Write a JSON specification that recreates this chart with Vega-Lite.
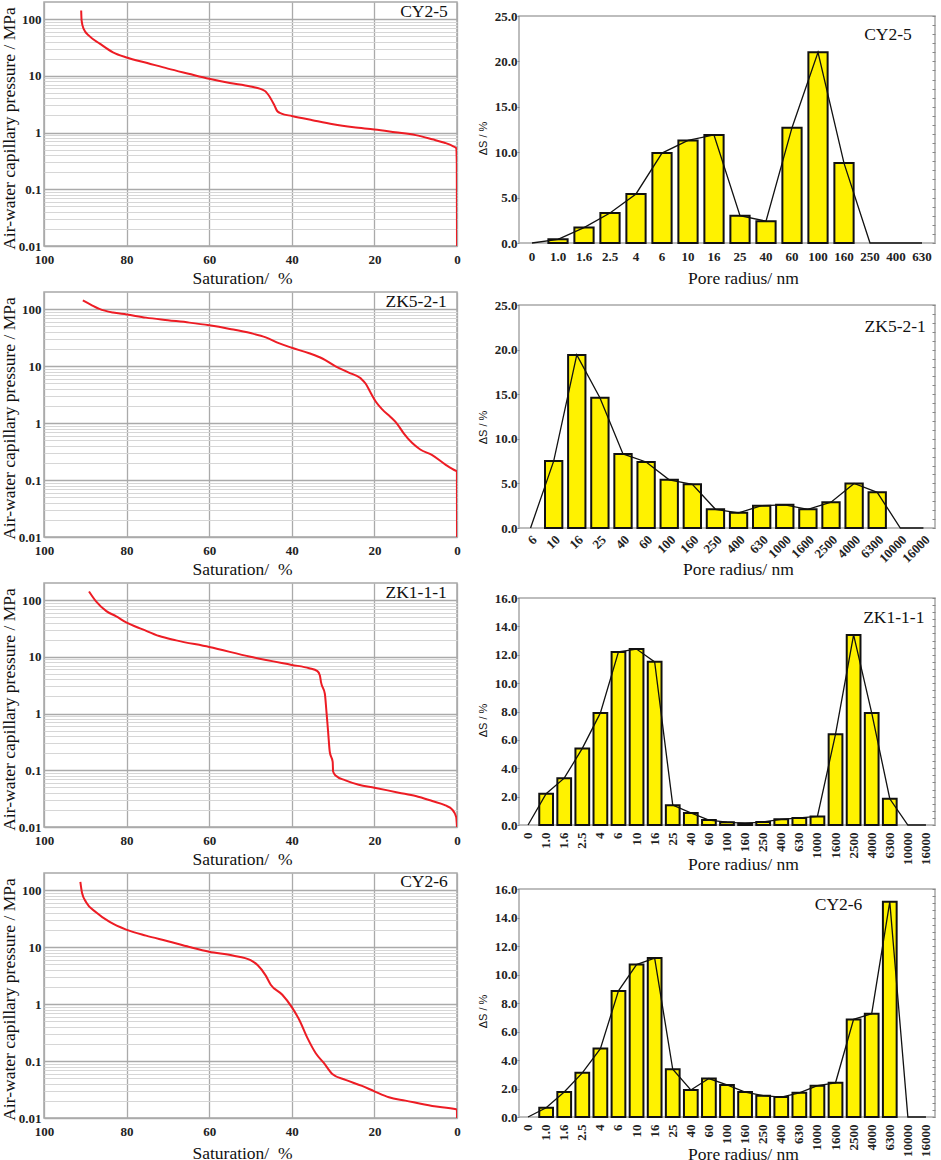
{
  "$schema": "https://vega.github.io/schema/vega-lite/v6.json",
  "background": "white",
  "padding": {"left": -1, "top": 1, "right": 0, "bottom": 0},
  "datasets": {
    "curve_cy25": [
      {"sat": 91, "p": 142}, {"sat": 90.9, "p": 95}, {"sat": 90.4, "p": 67}, {"sat": 89, "p": 50}, {"sat": 86.5, "p": 37}, {"sat": 83.3, "p": 26}, {"sat": 80, "p": 21}, {"sat": 75, "p": 16.8}, {"sat": 70, "p": 13.4}, {"sat": 65, "p": 10.9}, {"sat": 60, "p": 8.9}, {"sat": 55, "p": 7.5}, {"sat": 50, "p": 6.5}, {"sat": 46.5, "p": 5.4}, {"sat": 45.3, "p": 4.2}, {"sat": 44.2, "p": 3.0}, {"sat": 43.5, "p": 2.37}, {"sat": 42.5, "p": 2.16}, {"sat": 40, "p": 1.96}, {"sat": 35, "p": 1.65}, {"sat": 30, "p": 1.4}, {"sat": 25, "p": 1.24}, {"sat": 20, "p": 1.13}, {"sat": 15, "p": 1.01}, {"sat": 10, "p": 0.9}, {"sat": 6, "p": 0.76}, {"sat": 3, "p": 0.66}, {"sat": 1, "p": 0.575}, {"sat": 0.2, "p": 0.53}, {"sat": 0.05, "p": 0.3}, {"sat": 0, "p": 0.01}
    ],
    "curve_zk521": [
      {"sat": 90.6, "p": 142}, {"sat": 88.6, "p": 119}, {"sat": 86.6, "p": 101}, {"sat": 83.3, "p": 87}, {"sat": 80, "p": 80.5}, {"sat": 75.3, "p": 71}, {"sat": 70, "p": 64}, {"sat": 64.8, "p": 58}, {"sat": 60, "p": 52}, {"sat": 55, "p": 45}, {"sat": 50, "p": 38}, {"sat": 46.3, "p": 32}, {"sat": 43, "p": 25}, {"sat": 40, "p": 21}, {"sat": 35.8, "p": 16.8}, {"sat": 32.6, "p": 13.6}, {"sat": 29.4, "p": 9.9}, {"sat": 26.2, "p": 7.7}, {"sat": 23.3, "p": 6.1}, {"sat": 22.1, "p": 4.9}, {"sat": 20.9, "p": 3.4}, {"sat": 19.6, "p": 2.34}, {"sat": 18.1, "p": 1.74}, {"sat": 16.1, "p": 1.28}, {"sat": 14.5, "p": 0.97}, {"sat": 12.9, "p": 0.66}, {"sat": 10.9, "p": 0.45}, {"sat": 8.9, "p": 0.344}, {"sat": 6, "p": 0.274}, {"sat": 2.8, "p": 0.187}, {"sat": 0.4, "p": 0.147}, {"sat": 0.02, "p": 0.143}, {"sat": 0, "p": 0.01}
    ],
    "curve_zk111": [
      {"sat": 89.1, "p": 142}, {"sat": 87.4, "p": 95}, {"sat": 84.9, "p": 64}, {"sat": 82.5, "p": 51.5}, {"sat": 80.1, "p": 40.4}, {"sat": 76.1, "p": 30.4}, {"sat": 72.1, "p": 23.2}, {"sat": 68, "p": 19.5}, {"sat": 60, "p": 14.9}, {"sat": 50, "p": 10}, {"sat": 40, "p": 7.2}, {"sat": 35.8, "p": 6.3}, {"sat": 33.8, "p": 5.6}, {"sat": 33.2, "p": 4.7}, {"sat": 32.9, "p": 3.5}, {"sat": 32, "p": 2.23}, {"sat": 31.6, "p": 1.06}, {"sat": 31.2, "p": 0.47}, {"sat": 30.8, "p": 0.21}, {"sat": 30.1, "p": 0.14}, {"sat": 30, "p": 0.095}, {"sat": 29.4, "p": 0.081}, {"sat": 27, "p": 0.0664}, {"sat": 23.8, "p": 0.0557}, {"sat": 20, "p": 0.0493}, {"sat": 14.1, "p": 0.0403}, {"sat": 10, "p": 0.0352}, {"sat": 6, "p": 0.0287}, {"sat": 2.8, "p": 0.024}, {"sat": 1.2, "p": 0.0205}, {"sat": 0.2, "p": 0.015}, {"sat": 0, "p": 0.01}
    ],
    "curve_cy26": [
      {"sat": 91.2, "p": 140}, {"sat": 90.8, "p": 90}, {"sat": 89.8, "p": 61.5}, {"sat": 87.4, "p": 41}, {"sat": 84.1, "p": 27.7}, {"sat": 80.1, "p": 20.3}, {"sat": 75.3, "p": 15.9}, {"sat": 70, "p": 12.7}, {"sat": 64.8, "p": 10.07}, {"sat": 60, "p": 8.3}, {"sat": 54.3, "p": 7.1}, {"sat": 50, "p": 5.9}, {"sat": 48.3, "p": 4.85}, {"sat": 46.3, "p": 3.16}, {"sat": 45.1, "p": 2.19}, {"sat": 42.3, "p": 1.46}, {"sat": 40, "p": 0.885}, {"sat": 38.2, "p": 0.53}, {"sat": 36.2, "p": 0.252}, {"sat": 34.2, "p": 0.137}, {"sat": 32.2, "p": 0.0917}, {"sat": 30.2, "p": 0.0594}, {"sat": 27, "p": 0.0467}, {"sat": 23, "p": 0.0366}, {"sat": 20, "p": 0.0294}, {"sat": 16.5, "p": 0.0231}, {"sat": 12.5, "p": 0.0202}, {"sat": 6, "p": 0.0163}, {"sat": 0.2, "p": 0.0142}, {"sat": 0.02, "p": 0.0141}, {"sat": 0, "p": 0.01}
    ],
    "pores_cy25": [
      {"radius": "0", "ds": 0}, {"radius": "1.0", "ds": 0.4}, {"radius": "1.6", "ds": 1.7}, {"radius": "2.5", "ds": 3.3}, {"radius": "4", "ds": 5.4}, {"radius": "6", "ds": 9.9}, {"radius": "10", "ds": 11.3}, {"radius": "16", "ds": 11.9}, {"radius": "25", "ds": 3.0}, {"radius": "40", "ds": 2.4}, {"radius": "60", "ds": 12.7}, {"radius": "100", "ds": 21}, {"radius": "160", "ds": 8.8}, {"radius": "250", "ds": 0}, {"radius": "400", "ds": 0}, {"radius": "630", "ds": 0}
    ],
    "pores_zk521": [
      {"radius": "6", "ds": 0}, {"radius": "10", "ds": 7.5}, {"radius": "16", "ds": 19.4}, {"radius": "25", "ds": 14.6}, {"radius": "40", "ds": 8.3}, {"radius": "60", "ds": 7.4}, {"radius": "100", "ds": 5.4}, {"radius": "160", "ds": 4.9}, {"radius": "250", "ds": 2.1}, {"radius": "400", "ds": 1.7}, {"radius": "630", "ds": 2.5}, {"radius": "1000", "ds": 2.6}, {"radius": "1600", "ds": 2.1}, {"radius": "2500", "ds": 2.9}, {"radius": "4000", "ds": 5.0}, {"radius": "6300", "ds": 4.0}, {"radius": "10000", "ds": 0}, {"radius": "16000", "ds": 0}
    ],
    "pores_zk111": [
      {"radius": "0", "ds": 0}, {"radius": "1.0", "ds": 2.2}, {"radius": "1.6", "ds": 3.3}, {"radius": "2.5", "ds": 5.4}, {"radius": "4", "ds": 7.9}, {"radius": "6", "ds": 12.2}, {"radius": "10", "ds": 12.4}, {"radius": "16", "ds": 11.5}, {"radius": "25", "ds": 1.4}, {"radius": "40", "ds": 0.85}, {"radius": "60", "ds": 0.35}, {"radius": "100", "ds": 0.2}, {"radius": "160", "ds": 0.12}, {"radius": "250", "ds": 0.22}, {"radius": "400", "ds": 0.4}, {"radius": "630", "ds": 0.5}, {"radius": "1000", "ds": 0.6}, {"radius": "1600", "ds": 6.4}, {"radius": "2500", "ds": 13.4}, {"radius": "4000", "ds": 7.9}, {"radius": "6300", "ds": 1.85}, {"radius": "10000", "ds": 0}, {"radius": "16000", "ds": 0}
    ],
    "pores_cy26": [
      {"radius": "0", "ds": 0}, {"radius": "1.0", "ds": 0.65}, {"radius": "1.6", "ds": 1.75}, {"radius": "2.5", "ds": 3.1}, {"radius": "4", "ds": 4.8}, {"radius": "6", "ds": 8.85}, {"radius": "10", "ds": 10.7}, {"radius": "16", "ds": 11.15}, {"radius": "25", "ds": 3.35}, {"radius": "40", "ds": 1.9}, {"radius": "60", "ds": 2.7}, {"radius": "100", "ds": 2.25}, {"radius": "160", "ds": 1.75}, {"radius": "250", "ds": 1.5}, {"radius": "400", "ds": 1.4}, {"radius": "630", "ds": 1.7}, {"radius": "1000", "ds": 2.2}, {"radius": "1600", "ds": 2.4}, {"radius": "2500", "ds": 6.85}, {"radius": "4000", "ds": 7.25}, {"radius": "6300", "ds": 15.1}, {"radius": "10000", "ds": 0}, {"radius": "16000", "ds": 0}
    ]
  },
  "config": {
    "view": {"stroke": "#a8a8a8", "strokeWidth": 1.5},
    "axis": {
      "labelFont": "Liberation Serif",
      "labelFontSize": 13,
      "labelFontWeight": "bold",
      "labelColor": "#222",
      "labelOverlap": false,
      "labelFlush": false,
      "titleFont": "Liberation Serif",
      "titleFontSize": 17.5,
      "titleFontWeight": "normal",
      "titleColor": "#111"
    },
    "text": {"font": "Liberation Serif", "fontSize": 17.5, "color": "#111", "baseline": "middle"}
  },
  "spacing": 15,
  "hconcat": [
    {
      "bounds": "flush",
      "spacing": 46,
      "vconcat": [
        {
          "width": 413,
          "height": 244,
          "layer": [
            {
              "data": {"name": "curve_cy25"},
              "mark": {"type": "line", "color": "#ed1c24", "strokeWidth": 2, "clip": true, "interpolate": "monotone"},
              "encoding": {
                "x": {"field": "sat", "type": "quantitative", "scale": {"domain": [100, 0]}, "axis": {"values": [100, 80, 60, 40, 20, 0], "title": "Saturation/\u00a0\u00a0%", "titleX": 198, "titleY": 32, "titleBaseline": "middle", "grid": true, "gridColor": "#aaaaaa", "gridWidth": 1.3, "domain": false, "ticks": false, "labelPadding": 7}},
                "y": {"field": "p", "type": "quantitative", "scale": {"type": "log", "domain": [0.01, 200], "nice": false}, "axis": {"values": [0.01, 0.02, 0.03, 0.04, 0.05, 0.06, 0.07, 0.08, 0.09, 0.1, 0.2, 0.3, 0.4, 0.5, 0.6, 0.7, 0.8, 0.9, 1, 2, 3, 4, 5, 6, 7, 8, 9, 10, 20, 30, 40, 50, 60, 70, 80, 90, 100], "labelExpr": "indexof([0.01, 0.1, 1, 10, 100], datum.value) >= 0 ? datum.value + '' : ''", "title": "Air-water capillary pressure / MPa", "titleX": -35, "titleY": 126, "titleBaseline": "middle", "grid": true, "gridColor": {"condition": {"test": "indexof([0.01, 0.1, 1, 10, 100], datum.value) >= 0", "value": "#aaaaaa"}, "value": "#d6d6d6"}, "gridWidth": {"condition": {"test": "indexof([0.01, 0.1, 1, 10, 100], datum.value) >= 0", "value": 1.3}, "value": 1.1}, "domain": false, "ticks": false, "labelPadding": 3}},
                "order": {"field": "p", "sort": "ascending"}
              }
            },
            {
              "data": {"values": [{"sample": "CY2-5"}]},
              "mark": {"type": "text"},
              "encoding": {"x": {"datum": 8}, "y": {"datum": 133}, "text": {"field": "sample"}}
            }
          ]
        },
        {
          "width": 413,
          "height": 245,
          "layer": [
            {
              "data": {"name": "curve_zk521"},
              "mark": {"type": "line", "color": "#ed1c24", "strokeWidth": 2, "clip": true, "interpolate": "monotone"},
              "encoding": {
                "x": {"field": "sat", "type": "quantitative", "scale": {"domain": [100, 0]}, "axis": {"values": [100, 80, 60, 40, 20, 0], "title": "Saturation/\u00a0\u00a0%", "titleX": 198, "titleY": 32, "titleBaseline": "middle", "grid": true, "gridColor": "#aaaaaa", "gridWidth": 1.3, "domain": false, "ticks": false, "labelPadding": 7}},
                "y": {"field": "p", "type": "quantitative", "scale": {"type": "log", "domain": [0.01, 200], "nice": false}, "axis": {"values": [0.01, 0.02, 0.03, 0.04, 0.05, 0.06, 0.07, 0.08, 0.09, 0.1, 0.2, 0.3, 0.4, 0.5, 0.6, 0.7, 0.8, 0.9, 1, 2, 3, 4, 5, 6, 7, 8, 9, 10, 20, 30, 40, 50, 60, 70, 80, 90, 100], "labelExpr": "indexof([0.01, 0.1, 1, 10, 100], datum.value) >= 0 ? datum.value + '' : ''", "title": "Air-water capillary pressure / MPa", "titleX": -35, "titleY": 126, "titleBaseline": "middle", "grid": true, "gridColor": {"condition": {"test": "indexof([0.01, 0.1, 1, 10, 100], datum.value) >= 0", "value": "#aaaaaa"}, "value": "#d6d6d6"}, "gridWidth": {"condition": {"test": "indexof([0.01, 0.1, 1, 10, 100], datum.value) >= 0", "value": 1.3}, "value": 1.1}, "domain": false, "ticks": false, "labelPadding": 3}},
                "order": {"field": "p", "sort": "ascending"}
              }
            },
            {
              "data": {"values": [{"sample": "ZK5-2-1"}]},
              "mark": {"type": "text"},
              "encoding": {"x": {"datum": 9.9}, "y": {"datum": 131}, "text": {"field": "sample"}}
            }
          ]
        },
        {
          "width": 413,
          "height": 244,
          "layer": [
            {
              "data": {"name": "curve_zk111"},
              "mark": {"type": "line", "color": "#ed1c24", "strokeWidth": 2, "clip": true, "interpolate": "monotone"},
              "encoding": {
                "x": {"field": "sat", "type": "quantitative", "scale": {"domain": [100, 0]}, "axis": {"values": [100, 80, 60, 40, 20, 0], "title": "Saturation/\u00a0\u00a0%", "titleX": 198, "titleY": 32, "titleBaseline": "middle", "grid": true, "gridColor": "#aaaaaa", "gridWidth": 1.3, "domain": false, "ticks": false, "labelPadding": 7}},
                "y": {"field": "p", "type": "quantitative", "scale": {"type": "log", "domain": [0.01, 200], "nice": false}, "axis": {"values": [0.01, 0.02, 0.03, 0.04, 0.05, 0.06, 0.07, 0.08, 0.09, 0.1, 0.2, 0.3, 0.4, 0.5, 0.6, 0.7, 0.8, 0.9, 1, 2, 3, 4, 5, 6, 7, 8, 9, 10, 20, 30, 40, 50, 60, 70, 80, 90, 100], "labelExpr": "indexof([0.01, 0.1, 1, 10, 100], datum.value) >= 0 ? datum.value + '' : ''", "title": "Air-water capillary pressure / MPa", "titleX": -35, "titleY": 126, "titleBaseline": "middle", "grid": true, "gridColor": {"condition": {"test": "indexof([0.01, 0.1, 1, 10, 100], datum.value) >= 0", "value": "#aaaaaa"}, "value": "#d6d6d6"}, "gridWidth": {"condition": {"test": "indexof([0.01, 0.1, 1, 10, 100], datum.value) >= 0", "value": 1.3}, "value": 1.1}, "domain": false, "ticks": false, "labelPadding": 3}},
                "order": {"field": "p", "sort": "ascending"}
              }
            },
            {
              "data": {"values": [{"sample": "ZK1-1-1"}]},
              "mark": {"type": "text"},
              "encoding": {"x": {"datum": 9.9}, "y": {"datum": 135}, "text": {"field": "sample"}}
            }
          ]
        },
        {
          "width": 413,
          "height": 245,
          "layer": [
            {
              "data": {"name": "curve_cy26"},
              "mark": {"type": "line", "color": "#ed1c24", "strokeWidth": 2, "clip": true, "interpolate": "monotone"},
              "encoding": {
                "x": {"field": "sat", "type": "quantitative", "scale": {"domain": [100, 0]}, "axis": {"values": [100, 80, 60, 40, 20, 0], "title": "Saturation/\u00a0\u00a0%", "titleX": 198, "titleY": 35, "titleBaseline": "middle", "grid": true, "gridColor": "#aaaaaa", "gridWidth": 1.3, "domain": false, "ticks": false, "labelPadding": 7}},
                "y": {"field": "p", "type": "quantitative", "scale": {"type": "log", "domain": [0.01, 200], "nice": false}, "axis": {"values": [0.01, 0.02, 0.03, 0.04, 0.05, 0.06, 0.07, 0.08, 0.09, 0.1, 0.2, 0.3, 0.4, 0.5, 0.6, 0.7, 0.8, 0.9, 1, 2, 3, 4, 5, 6, 7, 8, 9, 10, 20, 30, 40, 50, 60, 70, 80, 90, 100], "labelExpr": "indexof([0.01, 0.1, 1, 10, 100], datum.value) >= 0 ? datum.value + '' : ''", "title": "Air-water capillary pressure / MPa", "titleX": -35, "titleY": 126, "titleBaseline": "middle", "grid": true, "gridColor": {"condition": {"test": "indexof([0.01, 0.1, 1, 10, 100], datum.value) >= 0", "value": "#aaaaaa"}, "value": "#d6d6d6"}, "gridWidth": {"condition": {"test": "indexof([0.01, 0.1, 1, 10, 100], datum.value) >= 0", "value": 1.3}, "value": 1.1}, "domain": false, "ticks": false, "labelPadding": 3}},
                "order": {"field": "p", "sort": "ascending"}
              }
            },
            {
              "data": {"values": [{"sample": "CY2-6"}]},
              "mark": {"type": "text"},
              "encoding": {"x": {"datum": 8}, "y": {"datum": 138}, "text": {"field": "sample"}}
            }
          ]
        }
      ]
    },
    {
      "spacing": 8,
      "vconcat": [
        {
          "spacing": 10,
          "vconcat": [
            {
              "spacing": 6,
              "vconcat": [
                {
                  "width": 416,
                  "height": 1,
                  "view": {"stroke": null},
                  "data": {"values": []},
                  "mark": "point",
                  "encoding": {}
                },
                {
                  "width": 416,
                  "height": 227,
                  "resolve": {"scale": {"y": "independent"}, "axis": {"y": "independent"}},
                  "layer": [
                    {
                      "data": {"name": "pores_cy25"},
                      "transform": [{"filter": "datum.ds > 0"}],
                      "mark": {"type": "bar", "color": "#fff200", "stroke": "#111", "strokeWidth": 2},
                      "encoding": {
                        "x": {"field": "radius", "type": "nominal", "scale": {"type": "band", "domain": ["0", "1.0", "1.6", "2.5", "4", "6", "10", "16", "25", "40", "60", "100", "160", "250", "400", "630"], "paddingInner": 0.26, "paddingOuter": 0.13}, "axis": {"title": "Pore radius/ nm", "titleX": 224, "titleY": 35, "titleBaseline": "middle", "labelAngle": 0, "ticks": false, "domain": false, "labelPadding": 7}},
                        "y": {"field": "ds", "type": "quantitative", "scale": {"domain": [0, 25], "nice": false}, "axis": {"values": [0, 5, 10, 15, 20, 25], "format": ".1f", "title": "\u0394S / %", "titleFont": "Liberation Sans", "titleFontSize": 11, "titleX": -36, "titleY": 122, "titleBaseline": "middle", "grid": false, "domain": false, "tickSize": 2, "tickColor": "#888", "labelPadding": 0}}
                      }
                    },
                    {
                      "data": {"name": "pores_cy25"},
                      "mark": {"type": "line", "color": "#111", "strokeWidth": 1.3},
                      "encoding": {
                        "x": {"field": "radius", "type": "nominal"},
                        "y": {"field": "ds", "type": "quantitative", "scale": {"domain": [0, 25], "nice": false}, "axis": {"orient": "right", "values": [0, 1, 2, 3, 4, 5, 6, 7, 8, 9, 10, 11, 12, 13, 14, 15, 16, 17, 18, 19, 20, 21, 22, 23, 24, 25], "labels": false, "title": null, "grid": false, "domain": false, "tickSize": -3, "tickColor": "#888"}}
                      }
                    },
                    {
                      "data": {"values": [{"sample": "CY2-5"}]},
                      "mark": {"type": "text", "dx": 18},
                      "encoding": {
                        "x": {"datum": "250", "type": "nominal"},
                        "y": {"datum": 22.9, "type": "quantitative", "scale": {"domain": [0, 25], "nice": false}, "axis": null},
                        "text": {"field": "sample"}
                      }
                    }
                  ]
                }
              ]
            },
            {
              "spacing": 12,
              "vconcat": [
                {
                  "width": 416,
                  "height": 223,
                  "resolve": {"scale": {"y": "independent"}, "axis": {"y": "independent"}},
                  "layer": [
                    {
                      "data": {"name": "pores_zk521"},
                      "transform": [{"filter": "datum.ds > 0"}],
                      "mark": {"type": "bar", "color": "#fff200", "stroke": "#111", "strokeWidth": 2},
                      "encoding": {
                        "x": {"field": "radius", "type": "nominal", "scale": {"type": "band", "domain": ["6", "10", "16", "25", "40", "60", "100", "160", "250", "400", "630", "1000", "1600", "2500", "4000", "6300", "10000", "16000"], "paddingInner": 0.25, "paddingOuter": 0.125}, "axis": {"title": "Pore radius/ nm", "titleX": 219, "titleY": 41, "titleBaseline": "middle", "labelAngle": 315, "ticks": false, "domain": false, "labelPadding": 5}},
                        "y": {"field": "ds", "type": "quantitative", "scale": {"domain": [0, 25], "nice": false}, "axis": {"values": [0, 5, 10, 15, 20, 25], "format": ".1f", "title": "\u0394S / %", "titleFont": "Liberation Sans", "titleFontSize": 11, "titleX": -36, "titleY": 122, "titleBaseline": "middle", "grid": false, "domain": false, "tickSize": 2, "tickColor": "#888", "labelPadding": 0}}
                      }
                    },
                    {
                      "data": {"name": "pores_zk521"},
                      "mark": {"type": "line", "color": "#111", "strokeWidth": 1.3},
                      "encoding": {
                        "x": {"field": "radius", "type": "nominal"},
                        "y": {"field": "ds", "type": "quantitative", "scale": {"domain": [0, 25], "nice": false}, "axis": {"orient": "right", "values": [0, 1, 2, 3, 4, 5, 6, 7, 8, 9, 10, 11, 12, 13, 14, 15, 16, 17, 18, 19, 20, 21, 22, 23, 24, 25], "labels": false, "title": null, "grid": false, "domain": false, "tickSize": -3, "tickColor": "#888"}}
                      }
                    },
                    {
                      "data": {"values": [{"sample": "ZK5-2-1"}]},
                      "mark": {"type": "text", "dx": 18},
                      "encoding": {
                        "x": {"datum": "6300", "type": "nominal"},
                        "y": {"datum": 22.5, "type": "quantitative", "scale": {"domain": [0, 25], "nice": false}, "axis": null},
                        "text": {"field": "sample"}
                      }
                    }
                  ]
                },
                {
                  "width": 416,
                  "height": 227,
                  "resolve": {"scale": {"y": "independent"}, "axis": {"y": "independent"}},
                  "layer": [
                    {
                      "data": {"name": "pores_zk111"},
                      "transform": [{"filter": "datum.ds > 0"}],
                      "mark": {"type": "bar", "color": "#fff200", "stroke": "#111", "strokeWidth": 2},
                      "encoding": {
                        "x": {"field": "radius", "type": "nominal", "scale": {"type": "band", "domain": ["0", "1.0", "1.6", "2.5", "4", "6", "10", "16", "25", "40", "60", "100", "160", "250", "400", "630", "1000", "1600", "2500", "4000", "6300", "10000", "16000"], "paddingInner": 0.24, "paddingOuter": 0.12}, "axis": {"title": "Pore radius/ nm", "titleX": 224, "titleY": 39, "titleBaseline": "middle", "labelAngle": 270, "ticks": false, "domain": false, "labelPadding": 7}},
                        "y": {"field": "ds", "type": "quantitative", "scale": {"domain": [0, 16], "nice": false}, "axis": {"values": [0, 2, 4, 6, 8, 10, 12, 14, 16], "format": ".1f", "title": "\u0394S / %", "titleFont": "Liberation Sans", "titleFontSize": 11, "titleX": -36, "titleY": 122, "titleBaseline": "middle", "grid": false, "domain": false, "tickSize": 2, "tickColor": "#888", "labelPadding": 0}}
                      }
                    },
                    {
                      "data": {"name": "pores_zk111"},
                      "mark": {"type": "line", "color": "#111", "strokeWidth": 1.3},
                      "encoding": {
                        "x": {"field": "radius", "type": "nominal"},
                        "y": {"field": "ds", "type": "quantitative", "scale": {"domain": [0, 16], "nice": false}, "axis": {"orient": "right", "values": [0, 0.5, 1, 1.5, 2, 2.5, 3, 3.5, 4, 4.5, 5, 5.5, 6, 6.5, 7, 7.5, 8, 8.5, 9, 9.5, 10, 10.5, 11, 11.5, 12, 12.5, 13, 13.5, 14, 14.5, 15, 15.5, 16], "labels": false, "title": null, "grid": false, "domain": false, "tickSize": -3, "tickColor": "#888"}}
                      }
                    },
                    {
                      "data": {"values": [{"sample": "ZK1-1-1"}]},
                      "mark": {"type": "text", "dx": 4},
                      "encoding": {
                        "x": {"datum": "6300", "type": "nominal"},
                        "y": {"datum": 14.6, "type": "quantitative", "scale": {"domain": [0, 16], "nice": false}, "axis": null},
                        "text": {"field": "sample"}
                      }
                    }
                  ]
                }
              ]
            }
          ]
        },
        {
          "width": 416,
          "height": 228,
          "resolve": {"scale": {"y": "independent"}, "axis": {"y": "independent"}},
          "layer": [
            {
              "data": {"name": "pores_cy26"},
              "transform": [{"filter": "datum.ds > 0"}],
              "mark": {"type": "bar", "color": "#fff200", "stroke": "#111", "strokeWidth": 2},
              "encoding": {
                "x": {"field": "radius", "type": "nominal", "scale": {"type": "band", "domain": ["0", "1.0", "1.6", "2.5", "4", "6", "10", "16", "25", "40", "60", "100", "160", "250", "400", "630", "1000", "1600", "2500", "4000", "6300", "10000", "16000"], "paddingInner": 0.24, "paddingOuter": 0.12}, "axis": {"title": "Pore radius/ nm", "titleX": 224, "titleY": 37, "titleBaseline": "middle", "labelAngle": 270, "ticks": false, "domain": false, "labelPadding": 7}},
                "y": {"field": "ds", "type": "quantitative", "scale": {"domain": [0, 16], "nice": false}, "axis": {"values": [0, 2, 4, 6, 8, 10, 12, 14, 16], "format": ".1f", "title": "\u0394S / %", "titleFont": "Liberation Sans", "titleFontSize": 11, "titleX": -36, "titleY": 122, "titleBaseline": "middle", "grid": false, "domain": false, "tickSize": 2, "tickColor": "#888", "labelPadding": 0}}
              }
            },
            {
              "data": {"name": "pores_cy26"},
              "mark": {"type": "line", "color": "#111", "strokeWidth": 1.3},
              "encoding": {
                "x": {"field": "radius", "type": "nominal"},
                "y": {"field": "ds", "type": "quantitative", "scale": {"domain": [0, 16], "nice": false}, "axis": {"orient": "right", "values": [0, 0.5, 1, 1.5, 2, 2.5, 3, 3.5, 4, 4.5, 5, 5.5, 6, 6.5, 7, 7.5, 8, 8.5, 9, 9.5, 10, 10.5, 11, 11.5, 12, 12.5, 13, 13.5, 14, 14.5, 15, 15.5, 16], "labels": false, "title": null, "grid": false, "domain": false, "tickSize": -3, "tickColor": "#888"}}
              }
            },
            {
              "data": {"values": [{"sample": "CY2-6"}]},
              "mark": {"type": "text", "dx": 3},
              "encoding": {
                "x": {"datum": "1600", "type": "nominal"},
                "y": {"datum": 14.9, "type": "quantitative", "scale": {"domain": [0, 16], "nice": false}, "axis": null},
                "text": {"field": "sample"}
              }
            }
          ]
        }
      ]
    }
  ]
}
